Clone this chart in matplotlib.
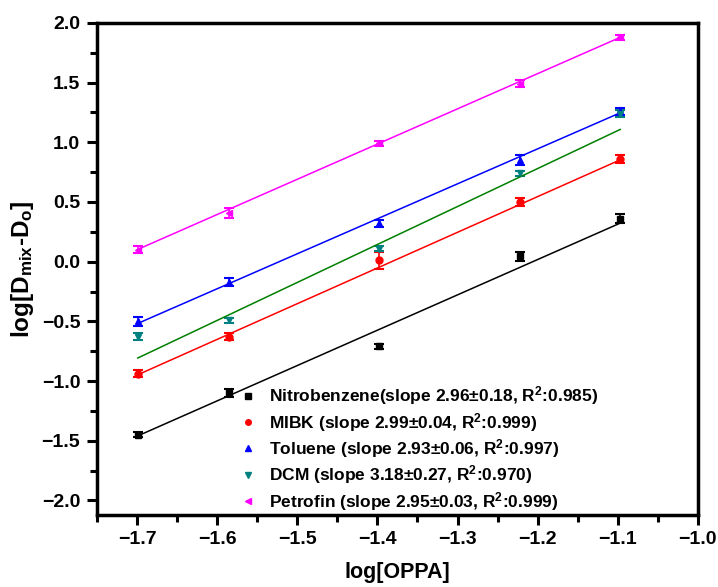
import numpy as np
import matplotlib.pyplot as plt
from matplotlib.lines import Line2D
from matplotlib.ticker import MultipleLocator

plt.rcParams['font.family'] = ['Liberation Sans', 'DejaVu Sans']
plt.rcParams['mathtext.default'] = 'regular'

# log[OPPA] values
x = [-1.699, -1.585, -1.398, -1.222, -1.097]

# log[Dmix - Do] per diluent
nitro = [-1.45, -1.10, -0.71, 0.045, 0.36]
nitro_err = [0.02, 0.03, 0.02, 0.04, 0.04]
mibk = [-0.94, -0.63, 0.01, 0.50, 0.86]
mibk_err = [0.03, 0.03, 0.07, 0.03, 0.03]
toluene = [-0.50, -0.17, 0.32, 0.85, 1.26]
toluene_err = [0.04, 0.03, 0.03, 0.04, 0.03]
dcm = [-0.63, -0.49, 0.11, 0.74, 1.24]
dcm_err = [0.03, 0.02, 0.02, 0.02, 0.03]
petrofin = [0.10, 0.41, 0.99, 1.49, 1.88]
petrofin_err = [0.03, 0.04, 0.02, 0.03, 0.02]

# linear fits (slope from legend, intercept)
fit_slope = [2.96, 2.99, 2.93, 3.18, 2.95]
fit_icept = [3.57, 4.133, 4.461, 4.596, 5.115]

labels = [
    'Nitrobenzene(slope 2.96\u00b10.18, R$^{2}$:0.985)',
    'MIBK (slope 2.99\u00b10.04, R$^{2}$:0.999)',
    'Toluene (slope 2.93\u00b10.06, R$^{2}$:0.997)',
    'DCM (slope 3.18\u00b10.27, R$^{2}$:0.970)',
    'Petrofin (slope 2.95\u00b10.03, R$^{2}$:0.999)',
]

series = [
    (nitro, nitro_err, 's', 'black', 'black'),
    (mibk, mibk_err, 'o', 'red', 'red'),
    (toluene, toluene_err, '^', 'blue', 'blue'),
    (dcm, dcm_err, 'v', '#008080', 'green'),
    (petrofin, petrofin_err, '<', 'magenta', 'magenta'),
]

fig = plt.figure(figsize=(7.18, 5.87), dpi=100)
ax = fig.add_axes([0.135, 0.123, 0.837, 0.838])

xs = np.array(x)
xe = xs[[0, -1]]
handles = []
for (y, err, m, c, lc), k, b, lab in zip(series, fit_slope, fit_icept, labels):
    ax.errorbar(xs, y, yerr=err, fmt=m, color=c, ms=5, capsize=3.5,
                elinewidth=1.2, capthick=1.5)
    ax.plot(xe, k * xe + b, color=lc, lw=1.1)
    handles.append(Line2D([], [], ls='none', marker=m, color=c, ms=4, label=lab))

ax.set_xlim(-1.75, -1.0)
ax.set_ylim(-2.12, 2.0)
ax.xaxis.set_major_locator(MultipleLocator(0.1))
ax.xaxis.set_minor_locator(MultipleLocator(0.05))
ax.yaxis.set_major_locator(MultipleLocator(0.5))
ax.yaxis.set_minor_locator(MultipleLocator(0.25))
ax.tick_params(which='major', direction='out', length=7, width=2.2,
               labelsize=14, pad=5)
ax.tick_params(which='minor', direction='out', length=5, width=2.2)
for lbl in ax.get_xticklabels() + ax.get_yticklabels():
    lbl.set_fontweight('bold')
for s in ax.spines.values():
    s.set_linewidth(2.5)

ax.set_xlabel('log[OPPA]', fontsize=15.5, fontweight='bold', labelpad=10)
ax.set_ylabel('log[D$_{mix}$-D$_{o}$]', fontsize=17.5, fontweight='bold',
              labelpad=4)

ax.legend(handles=handles, loc='lower left', bbox_to_anchor=(0.226, -0.01),
          frameon=False, prop={'size': 12.5, 'weight': 'bold'},
          handletextpad=0.7, labelspacing=0.2, borderaxespad=0,
          handlelength=1.0)

fig.savefig('out.png', dpi=100)
